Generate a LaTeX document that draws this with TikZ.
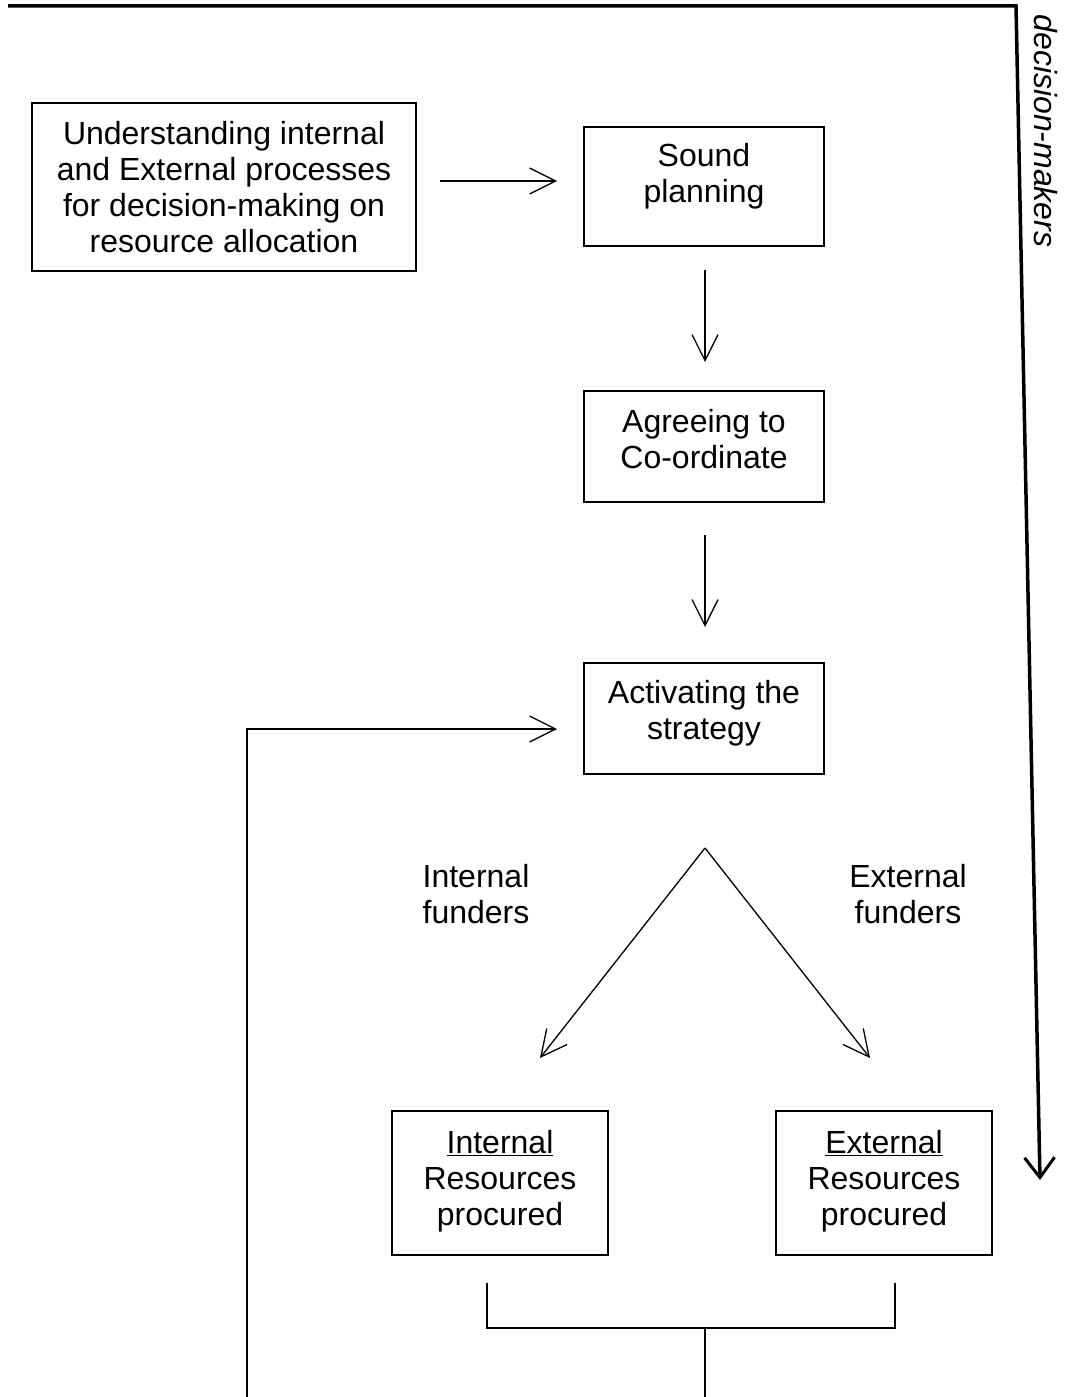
\documentclass[tikz,border=0pt]{standalone}
\usepackage{fontspec}
\setmainfont{Liberation Sans}
\usetikzlibrary{arrows.meta}
\begin{document}
\begin{tikzpicture}[x=1pt,y=-1pt,
  box/.style={draw,line width=1.3pt,inner sep=0pt},
  lbl/.style={align=center,font=\fontsize{32}{36}\selectfont,inner sep=0pt},
  conn/.style={line width=1.3pt,-{Straight Barb[length=26pt,width=26pt,line width=1.3pt]}},
  plain/.style={line width=1.3pt}]
\useasboundingbox (0,0) rectangle (1066,1397);
\node[box,minimum width=384pt,minimum height=168pt] (u) at (224,187) {};
\node[lbl] (ut) at (224,187) {Understanding internal\\and External processes\\for decision-making on\\resource allocation};
\node[box,minimum width=240pt,minimum height=119pt] (s) at (704,186.5) {};
\node[lbl] (st) at (704,176) {Sound\\planning};
\node[box,minimum width=240pt,minimum height=111pt] (a) at (704,446.5) {};
\node[lbl] (at) at (704,439) {Agreeing to\\Co-ordinate};
\node[box,minimum width=240pt,minimum height=111pt] (v) at (704,718.5) {};
\node[lbl] (vt) at (704,713) {Activating the\\strategy};
\node[box,minimum width=216pt,minimum height=144pt] (ir) at (500,1183) {};
\node[lbl] (irt) at (500,1181) {\underline{Internal}\\Resources\\procured};
\node[box,minimum width=216pt,minimum height=144pt] (er) at (884,1183) {};
\node[lbl] (ert) at (884,1181) {\underline{External}\\Resources\\procured};
\node[lbl] (if) at (476,894) {Internal\\funders};
\node[lbl] (ef) at (908,894) {External\\funders};
\node[rotate=-90,font=\fontsize{32}{36}\selectfont\itshape,inner sep=0pt] (dm) at (1046,131) {decision-makers};
% coordinates
\coordinate (c1) at (440,181);
\coordinate (c2) at (557,181);
\coordinate (d1) at (705,270);
\coordinate (d2) at (705,362);
\coordinate (e1) at (705,535);
\coordinate (e2) at (705,627);
\coordinate (f0) at (247,1397);
\coordinate (f1) at (247,729);
\coordinate (f2) at (557,729);
\coordinate (apex) at (705,848);
\coordinate (lt) at (540,1058);
\coordinate (rt) at (870,1058);
\coordinate (b1) at (487,1283);
\coordinate (b2) at (487,1328);
\coordinate (b3) at (895,1328);
\coordinate (b4) at (895,1283);
\coordinate (bm) at (705,1328);
\coordinate (bb) at (705,1397);
\coordinate (t0) at (8,6);
\coordinate (t1) at (1016,6);
\coordinate (t2) at (1040,1180);
\draw[conn] (c1) -- (c2);
\draw[conn] (d1) -- (d2);
\draw[conn] (e1) -- (e2);
\draw[conn] (f0) -- (f1) -- (f2);
\draw[conn] (apex) -- (lt);
\draw[conn] (apex) -- (rt);
\draw[plain] (b1) -- (b2) -- (b3) -- (b4);
\draw[plain] (bm) -- (bb);
\draw[line width=3.5pt,-{Straight Barb[length=20pt,width=30pt,line width=3pt]}] (t0) -- (t1) -- (t2);
\end{tikzpicture}
\end{document}
